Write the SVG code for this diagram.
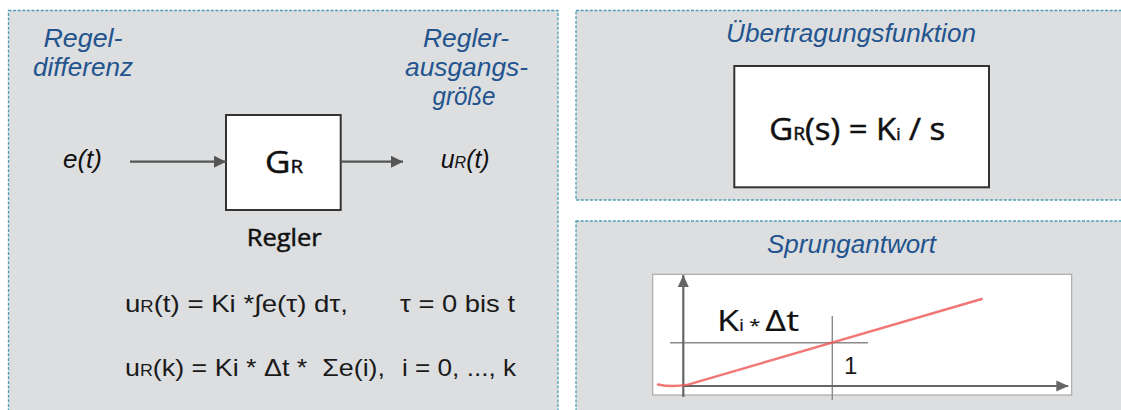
<svg xmlns="http://www.w3.org/2000/svg" width="1121" height="410" viewBox="0 0 1121 410">
<style>
.panel{fill:#dcdee0;stroke:#4e9db3;stroke-width:1.3;stroke-dasharray:3 1.6}
.blue{font-family:"Liberation Sans",Arial,sans-serif;font-style:italic;font-size:25px;fill:#23548e}
.it{font-family:"Liberation Sans",Arial,sans-serif;font-style:italic;font-size:25px;fill:#111}
.gs{font-family:"Open Sans",Lato,sans-serif;font-weight:400;fill:#111;stroke:#111;stroke-width:0.5}
.f{font-family:"Liberation Sans",Arial,sans-serif;font-size:24px;fill:#1a1a1a}
.box{fill:#fff;stroke:#333;stroke-width:2}
.conn{stroke:#555;stroke-width:2.2;fill:none}
.ax{stroke:#666;stroke-width:2.2;fill:none}
.grid{stroke:#8a8a8a;stroke-width:1.4;fill:none}
</style>
<defs>
<marker id="ah" viewBox="0 0 12 12" refX="12" refY="6" markerWidth="12" markerHeight="12" markerUnits="userSpaceOnUse" orient="auto">
<path d="M0,0 L12,6 L0,12 Z" fill="#555"/>
</marker>
<marker id="ah2" viewBox="0 0 12 12" refX="12" refY="6" markerWidth="12" markerHeight="12" markerUnits="userSpaceOnUse" orient="auto">
<path d="M0,0.5 L12,6 L0,11.5 Z" fill="#666"/>
</marker>
</defs>
<rect width="1121" height="410" fill="#fff"/>

<g id="panel-left">
<rect class="panel" x="8.5" y="10.5" width="549.5" height="410"/>
<text class="blue" text-anchor="middle" x="83" y="47" textLength="79" lengthAdjust="spacingAndGlyphs">Regel-</text>
<text class="blue" text-anchor="middle" x="83" y="76" textLength="100" lengthAdjust="spacingAndGlyphs">differenz</text>
<text class="blue" text-anchor="middle" x="466" y="47" textLength="86" lengthAdjust="spacingAndGlyphs">Regler-</text>
<text class="blue" text-anchor="middle" x="466.5" y="76" textLength="123" lengthAdjust="spacingAndGlyphs">ausgangs-</text>
<text class="blue" text-anchor="middle" x="464" y="105" textLength="63" lengthAdjust="spacingAndGlyphs">größe</text>
</g>

<g id="node-input">
<text class="it" x="63" y="168" textLength="39" lengthAdjust="spacingAndGlyphs">e(t)</text>
</g>

<g id="node-regler">
<rect class="box" x="226" y="115" width="114.7" height="95"/>
<text class="gs" x="265" y="172.7" font-size="31" textLength="38" lengthAdjust="spacingAndGlyphs">G<tspan font-size="18">R</tspan></text>
<text class="gs" x="246.7" y="245.7" font-size="24" textLength="75" lengthAdjust="spacingAndGlyphs">Regler</text>
</g>

<g id="node-output">
<text class="it" x="440.7" y="168" textLength="49" lengthAdjust="spacingAndGlyphs">u<tspan font-size="16">R</tspan>(t)</text>
</g>

<g id="connectors">
<line class="conn" x1="130" y1="161.7" x2="226" y2="161.7" marker-end="url(#ah)"/>
<line class="conn" x1="340.7" y1="161.7" x2="403" y2="161.7" marker-end="url(#ah)"/>
</g>

<g id="formulas">
<text class="f" x="125" y="312" textLength="223" lengthAdjust="spacingAndGlyphs">u<tspan font-size="16">R</tspan>(t) = Ki *∫e(τ) dτ,</text>
<text class="f" x="400" y="312" textLength="115" lengthAdjust="spacingAndGlyphs">τ = 0 bis t</text>
<text class="f" x="125" y="376" textLength="260" lengthAdjust="spacingAndGlyphs">u<tspan font-size="16">R</tspan>(k) = Ki * Δt * &#160;Σe(i),</text>
<text class="f" x="402" y="376" textLength="114" lengthAdjust="spacingAndGlyphs">i = 0, ..., k</text>
</g>

<g id="panel-transfer">
<rect class="panel" x="576" y="10.5" width="560" height="189.5"/>
<text class="blue" text-anchor="middle" x="851" y="42" textLength="250" lengthAdjust="spacingAndGlyphs">Übertragungsfunktion</text>
<rect class="box" x="734.3" y="66" width="254.7" height="121.3"/>
<text class="gs" x="769.3" y="140" font-size="31" textLength="176" lengthAdjust="spacingAndGlyphs">G<tspan font-size="18">R</tspan>(s) = K<tspan font-size="16">i</tspan> / s</text>
</g>

<g id="panel-step">
<rect class="panel" x="576" y="221" width="560" height="200"/>
<text class="blue" text-anchor="middle" x="851.5" y="253" textLength="169" lengthAdjust="spacingAndGlyphs">Sprungantwort</text>
<rect x="652.7" y="274.3" width="419" height="120.7" fill="#fff" stroke="#aaa" stroke-width="1.2"/>
<line class="grid" x1="670" y1="342.7" x2="868" y2="342.7"/>
<line class="grid" x1="832.3" y1="316" x2="832.3" y2="400"/>
<line class="ax" x1="683.3" y1="397" x2="683.3" y2="275" marker-end="url(#ah2)"/>
<line class="ax" x1="683.3" y1="386" x2="1068.3" y2="386" marker-end="url(#ah2)"/>
<path d="M658,384.5 Q672,387.5 688,384.6 L981.7,299" fill="none" stroke="#ee5555" stroke-width="2.4" stroke-opacity="0.8" stroke-linecap="round"/>
<text class="gs" x="717" y="330.7" font-size="29" style="stroke-width:0.2" textLength="82" lengthAdjust="spacingAndGlyphs">K<tspan font-size="16">i</tspan><tspan font-size="16"> * </tspan>Δt</text>
<text class="f" x="844" y="374">1</text>
</g>
</svg>
